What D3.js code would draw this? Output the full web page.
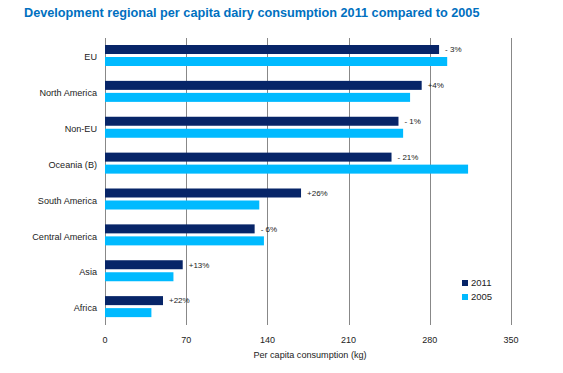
<!DOCTYPE html>
<html><head><meta charset="utf-8">
<script src="https://cdn.jsdelivr.net/npm/d3@7"></script>
<style>body{margin:0;background:#fff;}svg{display:block;font-family:"Liberation Sans",Arial,sans-serif;}</style>
</head><body>
<svg id="c" width="563" height="373"></svg>
<script>
const categories = ["EU","North America","Non-EU","Oceania (B)","South America","Central America","Asia","Africa"];
const values2011 = [288, 273, 253, 247, 169, 129, 67, 50];
const values2005 = [295, 263, 257, 313, 133, 137, 59, 40];
const changeLabels = ["- 3%","+4%","- 1%","- 21%","+26%","- 6%","+13%","+22%"];
const seriesNames = ["2011","2005"];
const xTicks = [0,70,140,210,280,350];

const colors = {"2011":"#072568","2005":"#00BAFF"};
const svg = d3.select("#c");
const x = d3.scaleLinear().domain([0,350]).range([105,511]);
const y = d3.scaleBand().domain(categories).range([38,325]);
const inner = d3.scaleBand().domain(seriesNames).range([7,28]).paddingInner(0.25);

svg.append("text").attr("x",24).attr("y",17).attr("fill","#0070C0")
  .attr("font-weight","bold").attr("font-size","12.7px")
  .text("Development regional per capita dairy consumption 2011 compared to 2005");

// grid
svg.append("g").selectAll("line").data(xTicks).join("line")
  .attr("x1",d=>Math.round(x(d))+0.5).attr("x2",d=>Math.round(x(d))+0.5)
  .attr("y1",38).attr("y2",325).attr("stroke","#888").attr("stroke-width",1);

const data = categories.map((c,i)=>({cat:c, "2011":values2011[i], "2005":values2005[i], label:changeLabels[i]}));

const g = svg.append("g").selectAll("g").data(data).join("g")
  .attr("transform",d=>`translate(0,${y(d.cat)})`);
g.selectAll("rect").data(d=>seriesNames.map(s=>({s, v:d[s]}))).join("rect")
  .attr("x",x(0)).attr("y",d=>inner(d.s)).attr("width",d=>x(d.v)-x(0))
  .attr("height",inner.bandwidth()).attr("fill",d=>colors[d.s]);
g.append("text").attr("x",d=>x(d["2011"])+6).attr("y",inner("2011")+inner.bandwidth()/2)
  .attr("dy","0.35em").attr("font-size","8px").attr("fill","#222").text(d=>d.label);
g.append("text").attr("x",97).attr("y",19).attr("dy","0.35em").attr("text-anchor","end")
  .attr("font-size","9.1px").attr("fill","#222").text(d=>d.cat);

// x axis labels
svg.append("g").selectAll("text").data(xTicks).join("text")
  .attr("x",d=>x(d)).attr("y",343).attr("text-anchor","middle")
  .attr("font-size","9px").attr("fill","#222").text(d=>d);
svg.append("text").attr("x",310).attr("y",358).attr("text-anchor","middle")
  .attr("font-size","9.1px").attr("fill","#222").text("Per capita consumption (kg)");

// legend
const lg = svg.append("g").selectAll("g").data(seriesNames).join("g")
  .attr("transform",(d,i)=>`translate(462,${280+i*14})`);
lg.append("rect").attr("width",6).attr("height",6).attr("fill",d=>colors[d]);
lg.append("text").attr("x",9).attr("y",3).attr("dy","0.35em").attr("font-size","9.5px").attr("fill","#222").text(d=>d);
</script>
</body></html>
